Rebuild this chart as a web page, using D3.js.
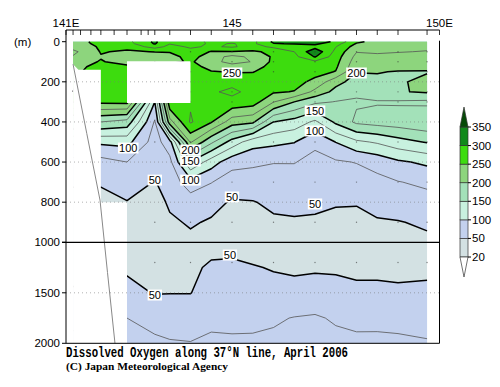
<!DOCTYPE html>
<html>
<head>
<meta charset="utf-8">
<script src="https://cdn.jsdelivr.net/npm/d3@7"></script>
<style>
  body { margin: 0; background: #fff; }
  svg { display: block; }
</style>
</head>
<body>
<div id="chart"></div>
<script>
// stations along 37N (deg E) and sampling depths (m)
const stations = [141.17, 141.5, 141.84, 142.47, 143.14, 143.5, 144.0, 144.5, 145.0,
  145.5, 146.0, 146.5, 147.0, 147.5, 148.0, 148.5, 149.0, 149.7];
const depths = [0, 10, 25, 50, 75, 100, 125, 150, 200, 250, 300, 400, 500, 600, 700,
  800, 900, 1000, 1100, 1250, 1500, 1750, 2000];

// dissolved oxygen, one list per station, surface to bottom
const oxygen = [
  [238, 236, 230, 222, 226, 235, 238, 240, 245, 250, 250, 175, 105, 66, 52, 44, 40, 38, 40, 44, 52, 70, 80],
  [248, 246, 238, 230, 232, 244, 250, 255, 262, 262, 256, 175, 105, 66, 52, 44, 40, 38, 40, 44, 52, 70, 80],
  [262, 260, 256, 252, 248, 252, 256, 262, 266, 266, 256, 175, 105, 66, 52, 44, 40, 38, 40, 44, 52, 70, 80],
  [268, 265, 258, 246, 235, 240, 255, 258, 262, 262, 258, 165, 108, 75, 62, 49, 44, 40, 44, 47, 56, 75, 82],
  [305, 302, 285, 251, 238, 240, 260, 262, 262, 262, 100, 72, 64, 56, 49, 42, 39, 38, 40, 44, 49, 66, 80],
  [278, 276, 268, 252, 240, 242, 265, 265, 265, 265, 270, 215, 90, 68, 59, 53, 47, 42, 42, 45, 49.5, 64, 77],
  [285, 283, 278, 268, 260, 254, 262, 268, 272, 272, 272, 278, 228, 148, 90, 62, 52, 46, 43, 46, 49.5, 62, 76],
  [270, 272, 272, 248, 236, 232, 240, 252, 268, 272, 268, 252, 180, 112, 76, 56, 48, 45, 47, 53, 59, 70, 79],
  [272, 276, 278, 248, 218, 218, 234, 248, 268, 280, 268, 212, 140, 84, 62, 48, 43, 44, 48, 53, 60, 70, 78],
  [268, 270, 266, 246, 230, 226, 236, 249, 262, 268, 262, 205, 110, 80, 62, 49, 45, 43, 46, 51, 58, 69, 79],
  [305, 298, 280, 256, 254, 256, 262, 262, 258, 253, 226, 150, 106, 76, 63, 54, 47, 44, 46, 49, 55, 72, 80],
  [312, 302, 282, 275, 268, 262, 256, 254, 258, 249, 200, 140, 101, 76, 64, 55, 48, 44, 46, 48, 54, 76, 82],
  [315, 305, 290, 318, 302, 270, 262, 258, 244, 218, 180, 120, 80, 68, 60, 53, 48, 45, 46, 48, 57, 78, 84],
  [295, 285, 276, 268, 262, 258, 254, 249, 208, 192, 174, 155, 100.5, 72, 62, 51, 47, 46, 46, 48, 55, 72, 82],
  [255, 248, 238, 226, 218, 212, 207, 201, 190, 180, 172, 180, 120, 76, 62, 51, 46, 44, 45, 47, 53, 69, 80],
  [242, 240, 236, 228, 220, 213, 207, 201, 196, 190, 173, 185, 128, 84, 68, 57, 48, 46, 45, 47, 53, 68, 81],
  [236, 235, 232, 226, 219, 212, 206, 199, 198, 198, 172, 188, 140, 96, 74, 60, 49, 46, 45, 47, 52, 67, 80],
  [232, 231, 229, 224, 216, 208, 204, 199, 204, 203, 170, 195, 152, 105, 80, 66, 53, 46, 45, 47, 53, 66, 77]
];

const levels = [20, 50, 100, 150, 200, 250, 300, 350];
const lineLevels = [50, 75, 100, 125, 150, 175, 200, 225, 250, 275, 300, 325];
const colors = ["#ffffff", "#d3e1e3", "#c3d1ee", "#c8f1df", "#a3e1b9", "#8dd57d",
  "#3ddc0e", "#11891a", "#064a08"];

// missing data and sea bottom
const coastMask = [[141.17, 112], [141.3, 140], [141.84, 140], [141.84, 800],
  [142.47, 800], [142.47, 2000], [141.17, 2000]];
const gapMask = [[142.47, 97], [144.0, 97], [144.0, 305], [142.47, 305]];
const bottomLon = [141.17, 141.5, 141.82, 142.0, 142.18];
const bottomDepth = [112, 457, 790, 1300, 2000];

// contour labels
const labelLon = [145.0, 148.0, 147.0, 147.0, 142.5, 144.0, 144.0, 144.0, 143.14, 145.0, 147.0, 144.95, 143.14];
const labelDepth = [156, 156, 345, 445, 530, 540, 595, 690, 690, 774, 809, 1126, 1522];
const labelText = ["250", "200", "150", "100", "100", "200", "150", "100", "50", "50", "50", "50", "50"];

const depthTicks = [0, 200, 400, 600, 800, 1000, 1500, 2000];
const gridDepths = [200, 400, 600, 800, 1500];
const lonTicks = [141, 141.17, 141.35, 141.6, 141.84, 142.16, 142.47, 142.81, 142.98, 143.14,
  143.5, 144, 144.5, 145, 145.5, 146, 146.5, 147, 147.5, 148, 148.5, 149, 149.7, 150];
const lonLabels = [141, 145, 150];
const lonLabelText = ["141E", "145", "150E"];
const dotStations = [143.14, 144, 145, 146, 147, 148, 149, 149.7];
const dotDepths = [50, 100, 150, 250, 300, 500, 700, 900, 1200];

const W = 500, H = 387;
const svg = d3.select("#chart").append("svg")
  .attr("width", W).attr("height", H);

const x = d3.scaleLinear().domain([141, 150]).range([66, 439.5]);
const y = d3.scaleLinear().domain([0, 1000, 2000]).range([41.7, 242.3, 343.3]);

// grid -> contours
const n = stations.length, m = depths.length;
const values = new Array(n * m);
for (let j = 0; j < m; j++)
  for (let i = 0; i < n; i++) values[j * n + i] = oxygen[i][j];

function interp(arr, t) {
  t = Math.max(0, Math.min(arr.length - 1, t));
  const k = Math.min(arr.length - 2, Math.floor(t));
  return arr[k] + (arr[k + 1] - arr[k]) * (t - k);
}
const px = p => x(interp(stations, p[0] - 0.5));
const py = p => y(interp(depths, p[1] - 0.5));
const onEdge = p => p[0] <= 0 || p[0] >= n || p[1] <= 0 || p[1] >= m;

const gen = d3.contours().size([n, m]);

const fills = svg.append("g");
levels.forEach((lv, k) => {
  const c = gen.contour(values, lv);
  const d = c.coordinates.map(poly => poly.map(ring =>
    "M" + ring.map(p => px(p).toFixed(2) + "," + py(p).toFixed(2)).join("L") + "Z").join("")).join("");
  fills.append("path")
    .attr("d", d)
    .attr("fill", colors[k + 1])
    .attr("fill-rule", "evenodd");
});

// contour lines, without the segments on the grid border
const lines = svg.append("g").attr("fill", "none").attr("stroke-linejoin", "round");
lineLevels.forEach(lv => {
  const c = gen.contour(values, lv);
  let d = "";
  c.coordinates.forEach(poly => poly.forEach(ring => {
    let down = false;
    for (let i = 0; i < ring.length - 1; i++) {
      const a = ring[i], b = ring[i + 1];
      if (onEdge(a) || onEdge(b)) { down = false; continue; }
      if (!down) { d += "M" + px(a).toFixed(2) + "," + py(a).toFixed(2); down = true; }
      d += "L" + px(b).toFixed(2) + "," + py(b).toFixed(2);
    }
  }));
  const major = lv % 50 === 0;
  lines.append("path")
    .attr("d", d)
    .attr("stroke", major ? "#000" : "#555")
    .attr("stroke-width", major ? 1.5 : 0.8);
});

// sample dots
svg.append("g").selectAll("circle")
  .data(d3.cross(dotStations, dotDepths))
  .join("circle")
  .attr("cx", d => x(d[0])).attr("cy", d => y(d[1]))
  .attr("r", 0.7).attr("fill", "#333").attr("opacity", 0.6);

// masks for missing data
const maskLine = d3.line().x(d => x(d[0])).y(d => y(d[1]));
svg.append("path").attr("d", maskLine(coastMask) + "Z").attr("fill", "#fff");
svg.append("path").attr("d", maskLine(gapMask) + "Z").attr("fill", "#fff");

svg.append("path")
  .datum(d3.zip(bottomLon, bottomDepth))
  .attr("d", maskLine)
  .attr("fill", "none").attr("stroke", "#888").attr("stroke-width", 1);

// dotted grid lines
svg.append("g").selectAll("line")
  .data(gridDepths)
  .join("line")
  .attr("x1", x(141)).attr("x2", x(150))
  .attr("y1", d => y(d)).attr("y2", d => y(d))
  .attr("stroke", "#777").attr("stroke-width", 0.8)
  .attr("stroke-dasharray", "1,3").attr("opacity", 0.7);

// labels on contours
const lab = svg.append("g")
  .style("font-family", "'Liberation Sans', Arial, sans-serif")
  .style("font-size", "11px");
labelText.forEach((t, i) => {
  const cx = x(labelLon[i]), cy = y(labelDepth[i]);
  const w = t.length * 6.2 + 2;
  lab.append("rect")
    .attr("x", cx - w / 2).attr("y", cy - 5.5)
    .attr("width", w).attr("height", 11)
    .attr("fill", "#fff");
  lab.append("text")
    .attr("x", cx).attr("y", cy + 4)
    .attr("text-anchor", "middle")
    .text(t);
});

// frame and axes
const axis = svg.append("g").attr("stroke", "#000").attr("stroke-width", 1);
axis.append("line").attr("x1", x(141)).attr("x2", x(141)).attr("y1", 30).attr("y2", y(2000));
axis.append("line").attr("x1", x(150)).attr("x2", x(150)).attr("y1", y(0) - 1).attr("y2", y(2000));
axis.append("line").attr("x1", x(141)).attr("x2", x(150)).attr("y1", 30).attr("y2", 30);
axis.append("line").attr("x1", x(141)).attr("x2", x(150)).attr("y1", y(2000)).attr("y2", y(2000));
axis.append("line").attr("x1", x(141) - 4).attr("x2", x(150)).attr("y1", y(1000)).attr("y2", y(1000))
  .attr("stroke-width", 1.3);

axis.selectAll(".tt").data(lonTicks).join("line")
  .attr("x1", d => x(d)).attr("x2", d => x(d))
  .attr("y1", 30).attr("y2", 35).attr("stroke-width", 0.8);
axis.selectAll(".lt").data(depthTicks).join("line")
  .attr("x1", x(141) - 4).attr("x2", x(141))
  .attr("y1", d => y(d)).attr("y2", d => y(d));

const txt = svg.append("g")
  .style("font-family", "'Liberation Sans', Arial, sans-serif")
  .style("font-size", "11.5px")
  .attr("fill", "#000");
txt.selectAll(".dl").data(depthTicks).join("text")
  .attr("x", x(141) - 6).attr("y", d => y(d) + 4)
  .attr("text-anchor", "end")
  .text(d => d);
txt.selectAll(".ll").data(lonLabels).join("text")
  .attr("x", d => x(d)).attr("y", 26.5)
  .attr("text-anchor", "middle")
  .text((d, i) => lonLabelText[i]);
txt.append("text").attr("x", 14).attr("y", y(0) + 4).text("(m)");

// colour bar
const cbX = 460, cbW = 8;
const cbY = d3.scaleLinear().domain([0, levels.length - 1]).range([257, 127]);
const cb = svg.append("g");
levels.slice(0, -1).forEach((lv, k) => {
  cb.append("rect")
    .attr("x", cbX).attr("y", cbY(k + 1))
    .attr("width", cbW).attr("height", cbY(k) - cbY(k + 1))
    .attr("fill", colors[k + 1])
    .attr("stroke", "#333").attr("stroke-width", 0.7);
});
cb.append("path")
  .attr("d", `M${cbX},${cbY(levels.length - 1)}L${cbX + cbW},${cbY(levels.length - 1)}L${cbX + cbW / 2},${cbY(levels.length - 1) - 20}Z`)
  .attr("fill", colors[colors.length - 1]).attr("stroke", "#333").attr("stroke-width", 0.7);
cb.append("path")
  .attr("d", `M${cbX},${cbY(0)}L${cbX + cbW},${cbY(0)}L${cbX + cbW / 2},${cbY(0) + 20}Z`)
  .attr("fill", colors[0]).attr("stroke", "#333").attr("stroke-width", 0.7);
cb.selectAll("line").data(levels).join("line")
  .attr("x1", cbX + cbW).attr("x2", cbX + cbW + 3)
  .attr("y1", (d, i) => cbY(i)).attr("y2", (d, i) => cbY(i))
  .attr("stroke", "#000");
cb.selectAll("text").data(levels).join("text")
  .attr("x", cbX + cbW + 4).attr("y", (d, i) => cbY(i) + 4)
  .style("font-family", "'Liberation Sans', Arial, sans-serif")
  .style("font-size", "11.5px")
  .text(d => d);

// title
svg.append("text")
  .attr("x", 66).attr("y", 356.5)
  .attr("textLength", 282).attr("lengthAdjust", "spacingAndGlyphs")
  .style("font-family", "'Liberation Mono', 'Courier New', monospace")
  .style("font-weight", "bold")
  .style("font-size", "14px")
  .text("Dissolved Oxygen along 37°N line, April 2006");
svg.append("text")
  .attr("x", 66).attr("y", 370)
  .attr("textLength", 162).attr("lengthAdjust", "spacingAndGlyphs")
  .style("font-family", "'Liberation Serif', 'Times New Roman', serif")
  .style("font-weight", "bold")
  .style("font-size", "10.5px")
  .text("(C) Japan Meteorological Agency");
</script>
</body>
</html>
